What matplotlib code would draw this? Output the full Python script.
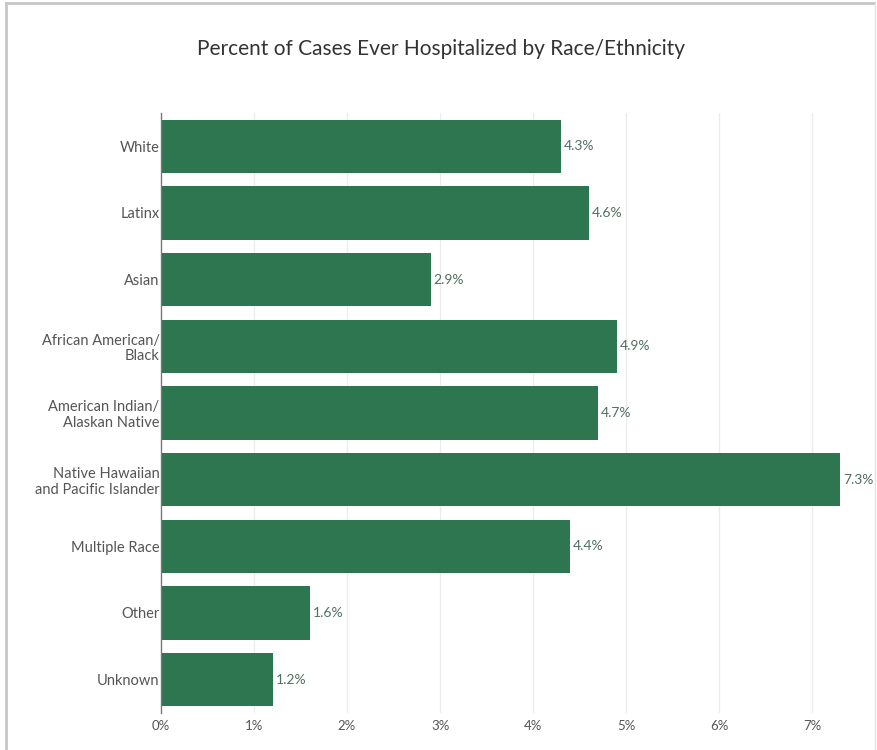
import numpy as np
import matplotlib.pyplot as plt
from matplotlib.lines import Line2D

# data
groups = ['White', 'Latinx', 'Asian', 'African American/\nBlack',
          'American Indian/\nAlaskan Native', 'Native Hawaiian\nand Pacific Islander',
          'Multiple Race', 'Other', 'Unknown']
pct = [4.3, 4.6, 2.9, 4.9, 4.7, 7.3, 4.4, 1.6, 1.2]
xticks = [0, 1, 2, 3, 4, 5, 6, 7]

bar_color = '#2e7650'
plt.rcParams['font.family'] = ['Lato', 'DejaVu Sans']

fig = plt.figure(figsize=(8.77, 7.5), dpi=100)
ax = fig.add_axes([161 / 877, 1 - 713 / 750, 707 / 877, 600 / 750])

y = np.arange(len(groups))
ax.barh(y, pct, height=0.8, color=bar_color, zorder=2)
for yi, v in zip(y, pct):
    ax.text(v + 0.03, yi, f'{v:.1f}%', va='center', ha='left',
            fontsize=10, color='#4f6f60')

ax.set_xlim(0, 7.6)
ax.set_ylim(len(groups) - 0.5, -0.5)
ax.set_yticks(y)
ax.set_yticklabels(groups, fontsize=10.5, color='#555555', linespacing=1.15)
ax.set_xticks(xticks)
ax.set_xticklabels([f'{t}%' for t in xticks], fontsize=9.5, color='#555555')
ax.tick_params(axis='y', length=0, pad=1)
ax.tick_params(axis='x', length=0, pad=5)

for t in xticks[1:]:
    ax.axvline(t, color='#ececec', lw=1, zorder=0)

for s in ['top', 'right', 'bottom']:
    ax.spines[s].set_visible(False)
ax.spines['left'].set_color('#777777')
ax.spines['left'].set_linewidth(1)

fig.text(441 / 877, 1 - 49 / 750, 'Percent of Cases Ever Hospitalized by Race/Ethnicity',
         ha='center', va='center', fontsize=15, color='#333333')

# outer frame
fig.add_artist(Line2D([6 / 877, 6 / 877], [0, 1 - 3 / 750], transform=fig.transFigure,
                      color='#c6c6c6', lw=2))
fig.add_artist(Line2D([6 / 877, 874 / 877], [1 - 3 / 750, 1 - 3 / 750],
                      transform=fig.transFigure, color='#c6c6c6', lw=2))
fig.add_artist(Line2D([874.5 / 877, 874.5 / 877], [0, 1 - 3 / 750], transform=fig.transFigure,
                      color='#e2e2e2', lw=1))

fig.savefig('out.png', dpi=100)
